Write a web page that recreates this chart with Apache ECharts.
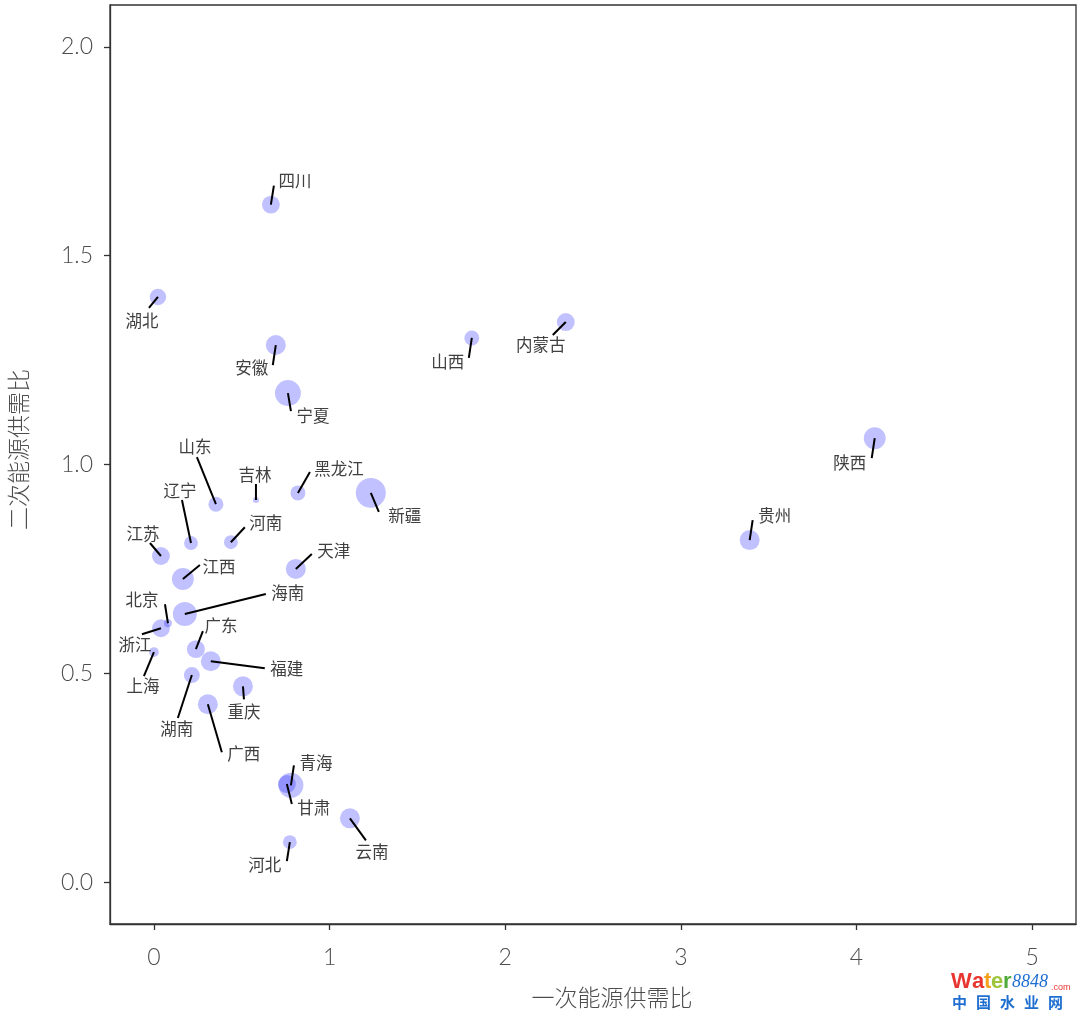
<!DOCTYPE html>
<html>
<head>
<meta charset="utf-8">
<script src="https://cdn.jsdelivr.net/npm/echarts@6/dist/echarts.min.js"></script>
<style>
html,body{margin:0;padding:0;background:#fff;}
#chart{width:1080px;height:1020px;}
</style>
</head>
<body>
<div id="chart"></div>
<script>
// ---- data ----
const provinces = ['四川','湖北','安徽','宁夏','山西','内蒙古','陕西','贵州','山东','吉林','黑龙江','新疆','辽宁','河南','江苏','天津','江西','海南','北京','浙江','上海','广东','福建','湖南','重庆','广西','青海','甘肃','云南','河北'];
const primaryRatio = [0.666,0.023,0.694,0.763,1.810,2.345,4.104,3.392,0.353,0.581,0.820,1.235,0.211,0.438,0.040,0.808,0.165,0.176,0.080,0.040,0.000,0.239,0.324,0.216,0.507,0.307,0.780,0.757,1.116,0.774];
const secondaryRatio = [1.622,1.401,1.286,1.171,1.303,1.341,1.063,0.819,0.905,0.915,0.932,0.932,0.812,0.814,0.781,0.750,0.726,0.642,0.620,0.608,0.551,0.558,0.529,0.496,0.469,0.426,0.232,0.235,0.153,0.096];
const bubbleValue = [20,17,25,42,14,20,30,25,14,2.3,14,56,12,12,20,25,30,36,4,20,6,20,25,16,25,25,39,20,25,12];
const xTicks = [0,1,2,3,4,5];
const yTicks = [0,0.5,1,1.5,2];

// ---- label layout (pixel offsets from each point: label centre, leader-line end) ----
const labelOffsets = [[24,-24],[-16,24],[-24,23],[25,23],[-24,24],[-25,23],[-25,25],[25,-24],[-21,-57],[-1,-25],[41,-24],[34,23],[-11,-52],[35,-19],[-18,-22],[38,-18],[36,-12],[103,-21],[-26,-24],[-26,16],[-11,34],[25,-23],[76,7],[-15,54],[1,25],[36,49],[25,-23],[27,24],[22,33],[-25,23]];
const lineEnds = [[3,-19],[-9,11],[-3,20],[3,18],[-3,20],[-13,13],[-3,20],[3,-20],[-19,-47],[0,-16],[12,-21],[8,19],[-9,-43],[14,-15],[-11,-13],[16,-15],[17,-14],[81,-20],[-3,-19],[-19,6],[-10,24],[7,-18],[54,7],[-14,43],[1,13],[14,48],[3,-20],[5,20],[16,22],[-3,19]];

const FONT = "'Noto Sans CJK SC', 'Lato', sans-serif";
const NUMFONT = "'Lato', 'Noto Sans CJK SC', sans-serif";
const TXT = '#4d4d4d';

const points = provinces.map((n,i)=>[primaryRatio[i], secondaryRatio[i], bubbleValue[i], i]);

const chart = echarts.init(document.getElementById('chart'), null, {renderer:'canvas'});
const wmChars = ['中','国','水','业','网'];
chart.setOption({
  animation:false,
  backgroundColor:'#fff',
  grid:{left:110, right:4, top:5, bottom:96, show:true, borderColor:'#333', borderWidth:1.3, backgroundColor:'transparent', outerBoundsMode:'none', containLabel:false},
  xAxis:{
    type:'value', min:-0.25, max:5.25,
    name:'一次能源供需比', nameLocation:'middle', nameGap:62,
    nameTextStyle:{fontSize:23, color:TXT, fontFamily:FONT, fontWeight:300, padding:[0,0,0,38]},
    axisLine:{show:true, onZero:false, lineStyle:{color:'#333', width:1.3}},
    axisTick:{show:true, length:6, lineStyle:{color:'#333', width:1.3}, customValues:xTicks},
    axisLabel:{customValues:xTicks, fontSize:23, color:TXT, fontFamily:NUMFONT, fontWeight:300, margin:22,
      formatter:v=>String(v)},
    splitLine:{show:false}
  },
  yAxis:{
    type:'value', min:-0.1, max:2.1,
    name:'二次能源供需比', nameLocation:'middle', nameGap:80,
    nameTextStyle:{fontSize:23, color:TXT, fontFamily:FONT, fontWeight:300, padding:[0,0,0,30]},
    axisLine:{show:true, onZero:false, lineStyle:{color:'#333', width:1.3}},
    axisTick:{show:true, length:6, lineStyle:{color:'#333', width:1.3}, customValues:yTicks},
    axisLabel:{customValues:yTicks, fontSize:23, color:TXT, fontFamily:NUMFONT, fontWeight:300, margin:17,
      formatter:v=>Number(v).toFixed(1)},
    splitLine:{show:false}
  },
  series:[
    {
      type:'scatter',
      data:points,
      encode:{x:0, y:1},
      symbol:'circle',
      symbolSize:d=>4*Math.sqrt(d[2]),
      itemStyle:{color:'rgba(0,0,255,0.3)', borderWidth:0},
      emphasis:{disabled:true},
      z:2
    },
    {
      type:'custom',
      data:points,
      encode:{x:0, y:1},
      clip:false,
      z:3,
      renderItem:(params, api)=>{
        const i = api.value(3);
        const p = api.coord([api.value(0), api.value(1)]);
        const lo = labelOffsets[i], le = lineEnds[i];
        return {
          type:'group',
          children:[
            {type:'line', shape:{x1:p[0], y1:p[1], x2:p[0]+le[0], y2:p[1]+le[1]},
             style:{stroke:'#000', lineWidth:2}},
            {type:'text', x:p[0]+lo[0], y:p[1]+lo[1],
             style:{text:provinces[i], fontSize:16.5, fill:'#404040', align:'center', verticalAlign:'middle', fontFamily:FONT}}
          ]
        };
      }
    }
  ],
  graphic:[
    {type:'text', left:951, top:971, style:{text:'W', font:'bold 22px "Liberation Sans", Arial', fill:'#e8352f'}},
    {type:'text', left:972, top:971, style:{text:'a', font:'bold 22px "Liberation Sans", Arial', fill:'#e8352f'}},
    {type:'text', left:984, top:971, style:{text:'t', font:'bold 22px "Liberation Sans", Arial', fill:'#f4a11c'}},
    {type:'text', left:991, top:971, style:{text:'e', font:'bold 22px "Liberation Sans", Arial', fill:'#9cc53c'}},
    {type:'text', left:1003, top:971, style:{text:'r', font:'bold 22px "Liberation Sans", Arial', fill:'#4faa3a'}},
    {type:'text', left:1012, top:973, style:{text:'8848', font:'italic 18px "Liberation Serif", serif', fill:'#1f6fd1'}},
    {type:'text', left:1051, top:983, style:{text:'.com', font:'9px "Liberation Sans", Arial', fill:'#e8352f'}}
  ].concat(wmChars.map((c,k)=>({type:'text', left:952+k*24, top:995, style:{text:c, font:'bold 15px "Noto Sans CJK SC"', fill:'#1f6fd1'}})))
});
</script>
</body>
</html>
